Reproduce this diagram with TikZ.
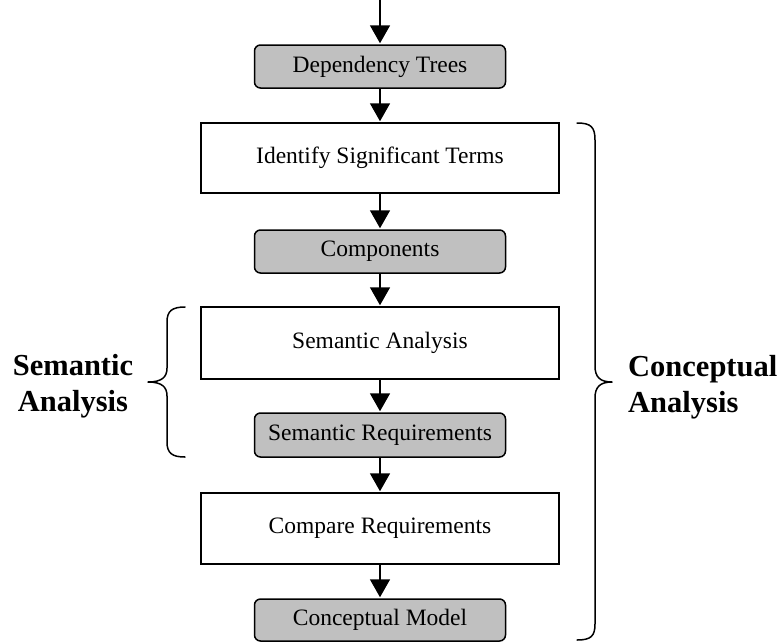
\documentclass[tikz,border=0pt]{standalone}
\usepackage{fontspec}
\setmainfont{Liberation Serif}
\usetikzlibrary{arrows.meta}
\definecolor{boxgray}{RGB}{192,192,192}
\tikzset{
  every node/.style={font=\fontsize{23.5}{26}\selectfont},
  procbox/.style={draw, line width=1.5pt, fill=white, minimum width=358pt, inner sep=0pt},
  databox/.style={draw, line width=1.5pt, fill=boxgray, rounded corners=6pt, minimum width=251pt, inner sep=0pt},
  flow/.style={line width=1.6pt, -{Triangle[width=20pt,length=18pt]}, shorten >=1pt},
  bracepath/.style={line width=1.5pt, line cap=round, line join=round},
  sidelabel/.style={font=\bfseries\fontsize{30.5}{36}\selectfont, inner sep=0pt},
}
\begin{document}
\begin{tikzpicture}[x=1pt, y=-1pt]
  \useasboundingbox (0,0) rectangle (784,641);

  % flow of boxes
  \coordinate (start) at (380,0);
  \node[databox, minimum height=43pt] (dep) at (380,66.5) {Dependency Trees};
  \node[procbox, minimum height=70pt] (ident) at (380,158) {Identify Significant Terms};
  \node[databox, minimum height=43pt] (comp) at (380,251.5) {Components};
  \node[procbox, minimum height=72pt] (sem) at (380,343) {Semantic Analysis};
  \node[databox, minimum height=44pt] (semreq) at (380,435) {Semantic Requirements};
  \node[procbox, minimum height=71pt] (cmp) at (380,528.5) {Compare Requirements};
  \node[databox, minimum height=42pt] (model) at (380,620) {Conceptual Model};

  \draw[flow] (start) -- (dep.north);
  \draw[flow] (dep) -- (ident);
  \draw[flow] (ident) -- (comp);
  \draw[flow] (comp) -- (sem);
  \draw[flow] (sem) -- (semreq);
  \draw[flow] (semreq) -- (cmp);
  \draw[flow] (cmp) -- (model);

  % right brace spanning the conceptual analysis steps
  \draw[bracepath] (577,123) .. controls (591,123) and (595,127) .. (595,140)
    -- (595,366) .. controls (595,377) and (600,382) .. (612,382)
    .. controls (600,382) and (595,387) .. (595,398)
    -- (595,624) .. controls (595,636) and (591,640) .. (577,640);

  % left brace spanning the semantic analysis steps
  \draw[bracepath] (185,307) .. controls (172,307) and (167,311) .. (167,322)
    -- (167,368) .. controls (167,377) and (162,382) .. (148,382)
    .. controls (162,382) and (167,387) .. (167,396)
    -- (167,442) .. controls (167,453) and (172,457) .. (185,457);

  \node[sidelabel, align=left, anchor=west] (concl) at (628,387) {Conceptual\\Analysis};
  \node[sidelabel, align=center] (seml) at (73,386) {Semantic\\Analysis};
\end{tikzpicture}
\end{document}
